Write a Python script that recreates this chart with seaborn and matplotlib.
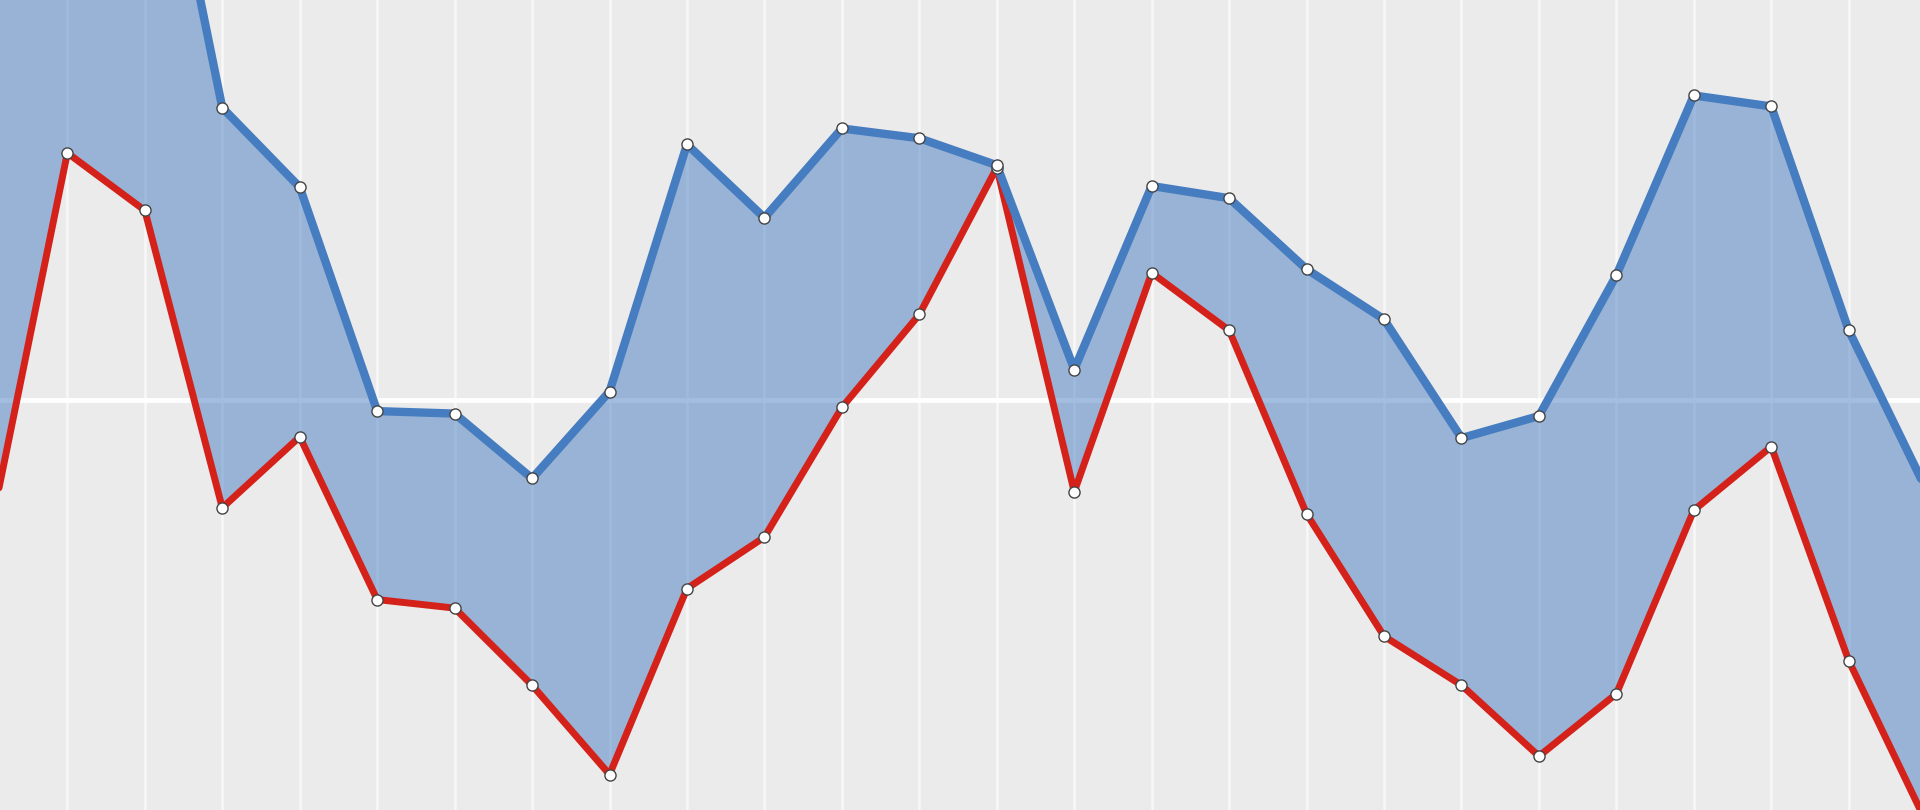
import seaborn as sns
import matplotlib.pyplot as plt
import pandas as pd

# Data (positions 0..25, values in chart units)
steps = list(range(26))
upper = [42, 48, 55, 23.9, 17.4, -0.9, -1.1, -6.4, 0.7, 20.9, 14.9, 22.2, 21.4,
         19.2, 2.5, 17.5, 16.5, 10.7, 6.6, -3.1, -1.3, 10.2, 24.9, 24.0, 5.7, -7.3]
lower = [-10.8, 20.2, 15.5, -8.8, -3.0, -16.3, -17.0, -23.3, -30.6, -15.4, -11.2,
         -0.6, 7.0, 19.0, -7.5, 10.4, 5.7, -9.3, -19.3, -23.3, -29.1, -24.0, -9.0,
         -3.8, -21.3, -34.5]

df = pd.DataFrame({'step': steps, 'upper': upper, 'lower': lower})

sns.set_theme(style='darkgrid', rc={'axes.facecolor': '#ebebeb',
                                    'grid.color': 'white'})

fig = plt.figure(figsize=(19.2, 8.1), dpi=100)
ax = fig.add_axes([0, 0, 1, 1])

blue = '#467dc1'
red = '#d4221a'

# band between the two series
ax.fill_between(df['step'], df['lower'], df['upper'], color=blue, alpha=0.5,
                linewidth=0, zorder=2)

sns.lineplot(data=df, x='step', y='lower', ax=ax, color=red, linewidth=5.0,
             zorder=3)
sns.lineplot(data=df, x='step', y='upper', ax=ax, color=blue, linewidth=6.0,
             zorder=4)

# white point markers on top of both lines
for col in ['lower', 'upper']:
    ax.plot(df['step'], df[col], linestyle='none', marker='o', markersize=8,
            markerfacecolor='white', markeredgecolor='#444444',
            markeredgewidth=1.0, zorder=5)

# ticks first, limits after (set_xticks would widen the view)
ax.set_xticks(steps)
ax.set_yticks([0])
ax.set_xlim(0.13, 24.92)
ax.set_ylim(-33.5, 32.7)
ax.grid(axis='x', color='#f8f8f8', linewidth=1.8)
ax.grid(axis='y', color='white', linewidth=3.5)
ax.set_xticklabels([])
ax.set_yticklabels([])
ax.set_xlabel('')
ax.set_ylabel('')
ax.tick_params(length=0)
for s in ax.spines.values():
    s.set_visible(False)

fig.savefig('out.png', dpi=100)
